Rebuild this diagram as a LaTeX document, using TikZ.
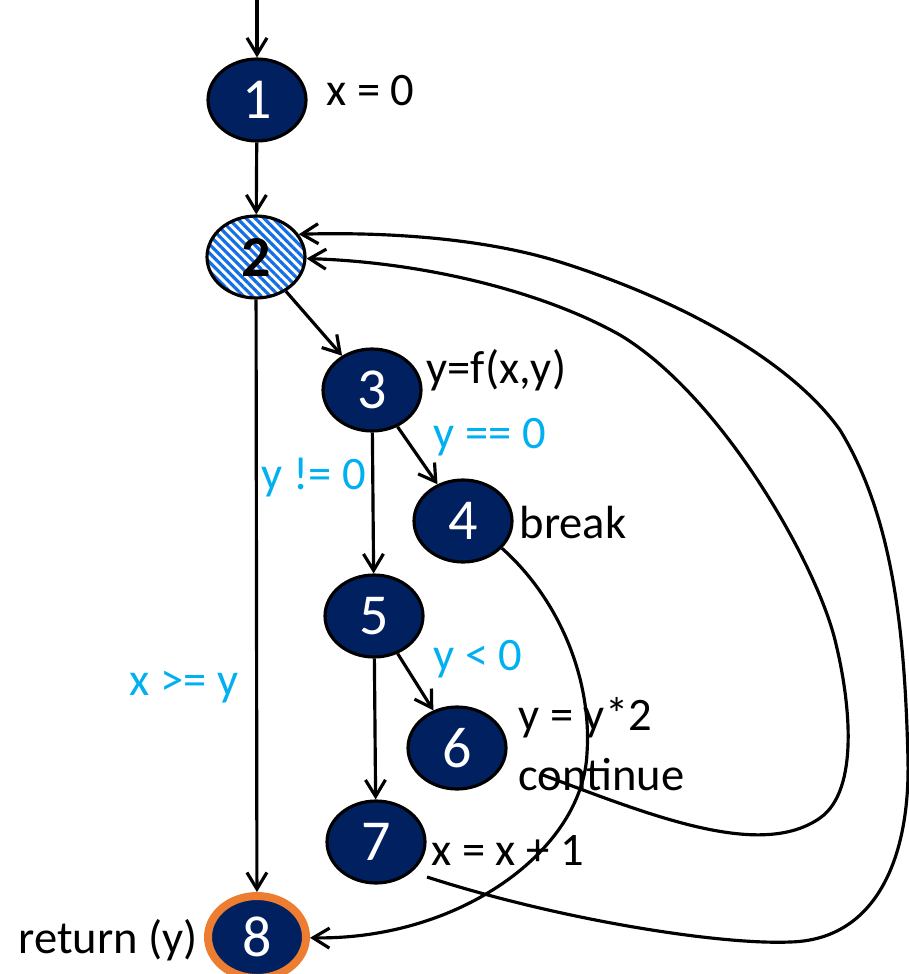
\documentclass[tikz,border=0pt]{standalone}
\usepackage{fontspec}
\setmainfont{Carlito}
\usetikzlibrary{arrows.meta,shapes.geometric,patterns.meta}
\definecolor{navy}{RGB}{0,32,96}
\definecolor{cyan}{RGB}{0,176,240}
\definecolor{orange}{RGB}{237,125,49}
\definecolor{hatch}{RGB}{20,110,230}

\begin{document}
\begin{tikzpicture}[x=0.02cm, y=-0.02cm, line width=1.8pt,
  every node/.style={font=\fontsize{26.5}{30}\selectfont},
  blk/.style={ellipse, draw=black, fill=navy, text=white, inner sep=0pt, minimum width=1.96cm, minimum height=1.64cm, font=\fontsize{33}{36}\selectfont},
  lbl/.style={anchor=base west, inner sep=0pt},
  cond/.style={lbl, text=cyan},
  flow/.style={-{Straight Barb[length=3.3mm,width=4mm]}}]
\useasboundingbox (0,0) rectangle (909,974);
\node[blk] (n1) at (257,100) {1};
\node[ellipse, draw=black, pattern={Lines[angle=-45,distance=3.6pt,line width=1.8pt]}, pattern color=hatch, inner sep=0pt, minimum width=1.96cm, minimum height=1.64cm, font=\fontsize{33}{36}\selectfont\bfseries] (n2) at (256,257) {2};
\node[blk] (n3) at (372,390) {3};
\node[blk] (n4) at (463,521) {4};
\node[blk] (n5) at (374,616) {5};
\node[blk] (n6) at (457,748) {6};
\node[blk] (n7) at (376,842) {7};
\node[blk, draw=orange, line width=0.16cm] (n8) at (257,937) {8};
% labels
\node[lbl] (l1) at (325,105) {x = 0};
\node[lbl] (l3) at (425,383) {y=f(x,y)};
\node[lbl] (l4) at (518,538) {break};
\node[lbl] (l6a) at (517,730) {y = y*2};
\node[lbl] (l6b) at (517,790) {continue};
\node[lbl] (l7) at (430,865) {x = x + 1};
\node[lbl] (l8) at (17,953) {return (y)};
\node[cond] (c34) at (432,448) {y == 0};
\node[cond] (c35) at (260,489) {y != 0};
\node[cond] (c56) at (432,670) {y < 0};
\node[cond] (c28) at (128,695) {x >= y};
% edges
\coordinate (in) at (257,0);
\coordinate (c6) at (543,775);
\coordinate (c7) at (427,877);
\draw[flow] (in) -- (n1);
\draw[flow] (n1) -- (n2);
\draw[flow] (n2) -- (n3);
\draw[flow] (n2) -- (n8);
\draw[flow] (n3) -- (n4);
\draw[flow] (n3) -- (n5);
\draw[flow] (n5) -- (n6);
\draw[flow] (n5) -- (n7);
% back edges
\draw[flow] (n4.-35) .. controls (560,600) and (592,680) .. (587,753)
  .. controls (583,850) and (460,940) .. (n8);
\draw[flow] (c6) .. controls (650,815) and (760,860) .. (820,818)
  .. controls (860,790) and (850,700) .. (835,640)
  .. controls (815,560) and (720,395) .. (620,335)
  .. controls (540,290) and (420,262) .. (n2);
\draw[flow] (c7) .. controls (560,920) and (720,945) .. (790,942)
  .. controls (875,940) and (910,860) .. (908,760)
  .. controls (905,640) and (895,520) .. (840,430)
  .. controls (790,360) and (680,300) .. (560,262)
  .. controls (480,237) and (380,232) .. (n2.28);
\end{tikzpicture}
\end{document}
